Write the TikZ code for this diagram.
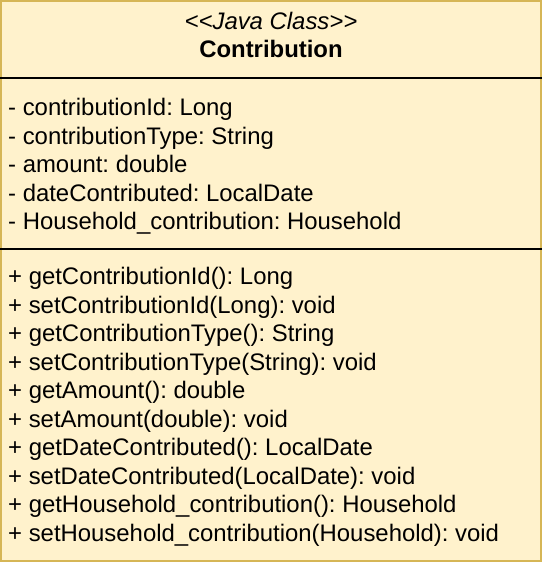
\documentclass[tikz,border=0pt]{standalone}
\usepackage{fontspec}
\setmainfont[Ligatures=NoCommon]{Liberation Sans}
\frenchspacing
\definecolor{classfill}{HTML}{FFF2CC}
\definecolor{classline}{HTML}{D6B656}
\tikzset{
  member/.style={anchor=base west, inner sep=0pt, font=\fontsize{23.9}{28}\selectfont},
  header/.style={anchor=center, inner sep=0pt, font=\fontsize{23.9}{28}\selectfont},
  divider/.style={line width=2pt, black}
}
\begin{document}
\begin{tikzpicture}[x=1pt,y=-1pt]
  \useasboundingbox (0,0) rectangle (542,562);
  \draw[fill=classfill, draw=classline, line width=2pt] (1,1) rectangle (541,561);
  % header
  \node[header] (stereo) at (271,21) {\itshape {<}{<}Java Class{>}{>}};
  \node[header] (name) at (271,49) {\bfseries Contribution};
  % compartment dividers
  \coordinate (d1l) at (0,78);
  \coordinate (d1r) at (542,78);
  \coordinate (d2l) at (0,249);
  \coordinate (d2r) at (542,249);
  \draw[divider] (d1l) -- (d1r);
  \draw[divider] (d2l) -- (d2r);
  % attributes
  \foreach \txt [count=\i] in {
      {- contributionId: Long},
      {- contributionType: String},
      {- amount: double},
      {- dateContributed: LocalDate},
      {- Household\_contribution: Household}}
    \node[member] (attr\i) at (8,{115.5+28.6*(\i-1)}) {\txt};
  % operations
  \foreach \txt [count=\i] in {
      {+ getContributionId(): Long},
      {+ setContributionId(Long): void},
      {+ getContributionType(): String},
      {+ setContributionType(String): void},
      {+ getAmount(): double},
      {+ setAmount(double): void},
      {+ getDateContributed(): LocalDate},
      {+ setDateContributed(LocalDate): void},
      {+ getHousehold\_contribution(): Household},
      {+ setHousehold\_contribution(Household): void}}
    \node[member] (oper\i) at (8,{284.5+28.55*(\i-1)}) {\txt};
\end{tikzpicture}
\end{document}
